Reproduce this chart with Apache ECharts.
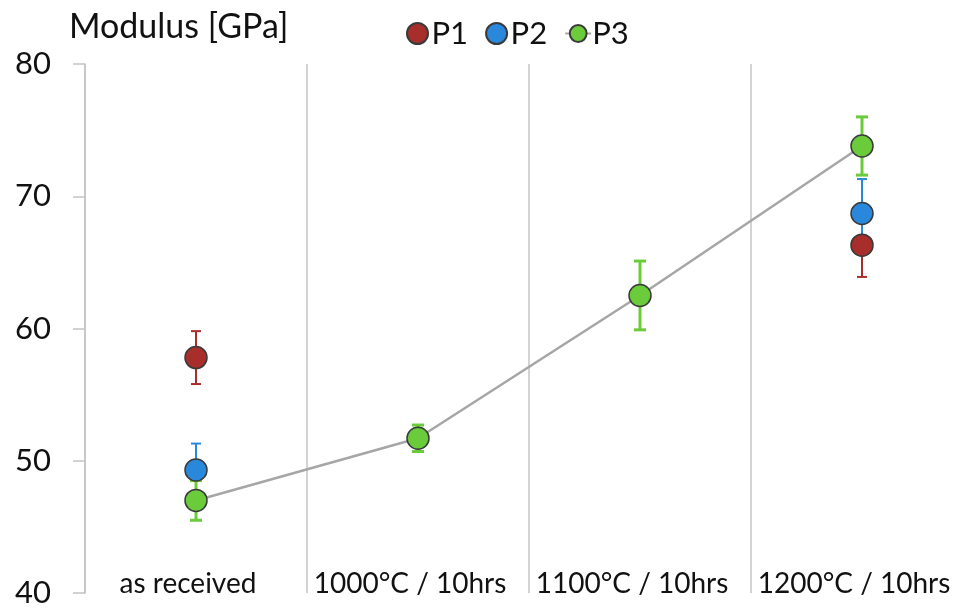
<!DOCTYPE html>
<html>
<head>
<meta charset="utf-8">
<script src="https://cdn.jsdelivr.net/npm/echarts@6/dist/echarts.min.js"></script>
<style>
  html, body { margin: 0; padding: 0; background: #fff; }
  #main { width: 960px; height: 608px; }
</style>
</head>
<body>
<div id="main"></div>
<script>
// categories and values
var categories = ['as received', '1000°C / 10hrs', '1100°C / 10hrs', '1200°C / 10hrs'];
var p1 = [57.8, null, null, 66.3];
var p1Err = [2.0, null, null, 2.4];
var p2 = [49.3, null, null, 68.7];
var p2Err = [2.0, null, null, 2.6];
var p3 = [47.0, 51.7, 62.5, 73.8];
var p3Err = [1.5, 1.0, 2.6, 2.2];
var yTicks = { min: 40, max: 80, interval: 10 };

var fontName = 'Lato';

function errData(vals, errs) {
    var out = [];
    for (var i = 0; i < vals.length; i++) {
        if (vals[i] == null) continue;
        out.push([i, vals[i] - errs[i], vals[i] + errs[i]]);
    }
    return out;
}

function errSeries(name, vals, errs, color, width, capW) {
    return {
        name: name,
        type: 'custom',
        silent: true,
        data: errData(vals, errs),
        renderItem: function (params, api) {
            var lo = api.coord([api.value(0), api.value(1)]);
            var hi = api.coord([api.value(0), api.value(2)]);
            var x = lo[0];
            var st = { stroke: color, lineWidth: width };
            return {
                type: 'group',
                children: [
                    { type: 'line', shape: { x1: x, y1: lo[1], x2: x, y2: hi[1] }, style: st },
                    { type: 'line', shape: { x1: x - capW / 2, y1: lo[1], x2: x + capW / 2, y2: lo[1] }, style: st },
                    { type: 'line', shape: { x1: x - capW / 2, y1: hi[1], x2: x + capW / 2, y2: hi[1] }, style: st }
                ]
            };
        }
    };
}

var colors = { p1: '#a82e2c', p2: '#2a88dc', p3: '#6acc3a' };
var border = { borderColor: '#3a3a3a', borderWidth: 1.5, opacity: 1 };

var chart = echarts.init(document.getElementById('main'));
chart.setOption({
    animation: false,
    textStyle: { fontFamily: fontName },
    title: {
        text: 'Modulus [GPa]',
        left: 64,
        top: 5,
        textStyle: { fontFamily: fontName, fontSize: 34, fontWeight: 'normal', color: '#111' }
    },
    legend: {
        data: ['P1', 'P2', 'P3'],
        left: 401,
        top: 13,
        itemWidth: 26,
        itemHeight: 21,
        itemGap: 17,
        textStyle: { fontFamily: fontName, fontSize: 31, color: '#111', padding: [0, 0, 0, -4] }
    },
    // the rightmost column runs past the picture's edge
    grid: { left: 85, right: -13, top: 64, bottom: 15, outerBoundsMode: 'none' },
    xAxis: {
        type: 'category',
        data: categories,
        boundaryGap: true,
        axisLine: { show: false },
        axisTick: { show: false },
        splitLine: { show: true, lineStyle: { color: '#c4c4c4', width: 1.5 } },
        axisLabel: {
            interval: 0, margin: -23, fontSize: 28, color: '#111', fontFamily: fontName,
            padding: [0, 16, 0, 0]
        }
    },
    yAxis: {
        type: 'value',
        min: yTicks.min,
        max: yTicks.max,
        interval: yTicks.interval,
        axisLine: { show: true, lineStyle: { color: '#c4c4c4', width: 1.5 } },
        axisTick: { show: true, length: 12, lineStyle: { color: '#c4c4c4', width: 1.5 } },
        splitLine: { show: false },
        axisLabel: { fontSize: 31, color: '#111', margin: 34, fontFamily: fontName }
    },
    series: [
        errSeries('P1 err', p1, p1Err, colors.p1, 2, 10),
        {
            name: 'P1',
            type: 'scatter',
            symbol: 'circle',
            symbolSize: 22,
            itemStyle: Object.assign({ color: colors.p1 }, border),
            data: p1
        },
        errSeries('P2 err', p2, p2Err, colors.p2, 2, 10),
        {
            name: 'P2',
            type: 'scatter',
            symbol: 'circle',
            symbolSize: 22,
            itemStyle: Object.assign({ color: colors.p2 }, border),
            data: p2
        },
        errSeries('P3 err', p3, p3Err, colors.p3, 3, 12),
        {
            name: 'P3',
            type: 'line',
            symbol: 'circle',
            symbolSize: 22,
            showAllSymbol: true,
            lineStyle: { color: '#a6a6a6', width: 2.5 },
            itemStyle: Object.assign({ color: colors.p3 }, border),
            data: p3
        }
    ]
});
</script>
</body>
</html>
